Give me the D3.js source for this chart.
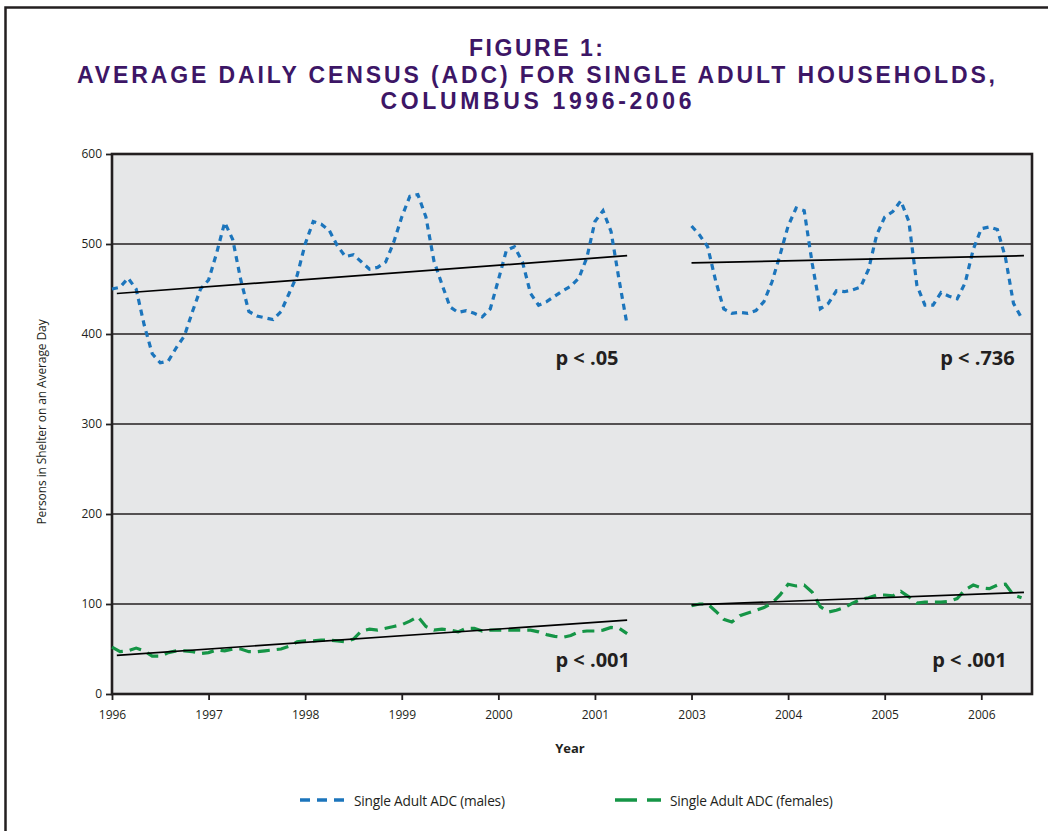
<!DOCTYPE html>
<html>
<head>
<meta charset="utf-8">
<script src="https://cdn.jsdelivr.net/npm/d3@7"></script>
<style>
  body { margin: 0; background: #fff; }
  text { font-family: "Open Sans", "Noto Sans", sans-serif; fill: #231f20; }
</style>
</head>
<body>
<div id="chart"></div>
<script>
// tick labels (2002 is skipped on the axis, 2003 sits where 2002 would be)
const yearLabels = ["1996","1997","1998","1999","2000","2001","2003","2004","2005","2006"];
const yearTicks = [0, 12, 24, 36, 48, 60, 72, 84, 96, 108]; // month index
const yTicks = [0, 100, 200, 300, 400, 500, 600];

// monthly ADC, males, Jan 1996 - May 2001
const maleA = [450,452,462,450,410,378,368,370,385,398,425,450,
  460,490,524,505,460,425,420,418,416,425,445,465,
  500,525,522,515,498,486,488,480,472,474,480,502,
  530,553,555,530,481,455,430,424,426,423,419,428,
  460,493,497,480,445,432,436,442,448,453,462,485,
  525,537,514,460,410];
// males, Jan 2003 - Jun 2006
const maleB = [520,510,497,459,428,423,424,423,426,436,458,488,
  520,540,537,478,428,434,448,447,449,452,472,510,
  530,536,548,525,454,432,432,446,442,439,457,494,
  517,519,516,485,434,418];
// females
const femaleA = [52,47,48,51,48,42,42,46,48,48,47,45,
  46,49,48,50,50,47,47,48,49,50,53,58,
  59,59,60,60,59,58,61,70,72,71,73,75,
  77,81,86,75,71,72,71,69,73,73,70,71,
  71,71,71,71,71,69,66,64,63,65,69,70,
  70,71,74,73,67];
const femaleB = [98,100,100,92,83,80,87,90,93,96,101,110,
  122,120,121,113,97,91,93,96,101,105,107,110,
  110,109,114,108,101,102,102,102,103,106,116,121,
  118,117,121,122,110,107];
const startA = 0, startB = 72;

// linear trends [month, value]
const trends = [
  [[0.6, 445], [64, 487]],
  [[72, 479], [113.3, 487]],
  [[0.6, 43], [64, 82]],
  [[72, 99], [113.3, 113]]
];
const pLabels = ["p < .05", "p < .736", "p < .001", "p < .001"];
const pPos = [[55.1, 365], [102.9, 365], [55.1, 667], [101.9, 667]]; // month, baseline

const W = 1048, H = 831;
const margin = {top: 154, right: 16, bottom: 137, left: 112};
const width = W - margin.left - margin.right,
      height = H - margin.top - margin.bottom;

const svg = d3.select("#chart").append("svg")
  .attr("width", W).attr("height", H);

// outer frame
svg.append("rect")
  .attr("x", 5.5).attr("y", 7.5).attr("width", 1100).attr("height", 900)
  .attr("fill", "none").attr("stroke", "#231f20").attr("stroke-width", 2.5);

// title
const titleLines = ["FIGURE 1:", "AVERAGE DAILY CENSUS (ADC) FOR SINGLE ADULT HOUSEHOLDS,", "COLUMBUS 1996-2006"];
const titleWidths = [134, 918, 311];
svg.append("g").selectAll("text")
  .data(titleLines)
  .join("text")
    .attr("x", 536)
    .attr("y", (d, i) => 56 + i * 26.5)
    .attr("text-anchor", "middle")
    .attr("textLength", (d, i) => titleWidths[i])
    .attr("lengthAdjust", "spacing")
    .style("font-family", "'Liberation Sans', Arial, sans-serif")
    .style("font-size", "23px")
    .style("font-weight", "bold")
    .style("fill", "#3d1666")
    .text(d => d);

const g = svg.append("g")
  .attr("transform", `translate(${margin.left},${margin.top})`);

const x = d3.scaleLinear().domain([0, 114.3]).range([0, width]);
const y = d3.scaleLinear().domain([0, 600]).range([height, 0]);

// plot background
g.append("rect")
  .attr("width", width).attr("height", height)
  .attr("fill", "#e6e7e8");

// grid
g.append("g").selectAll("line")
  .data(yTicks.slice(1, -1))
  .join("line")
    .attr("x1", 0).attr("x2", width)
    .attr("y1", d => y(d)).attr("y2", d => y(d))
    .attr("stroke", "#231f20").attr("stroke-width", 1.6);

// axes
const yAxis = g.append("g")
  .call(d3.axisLeft(y).tickValues(yTicks).tickSize(6).tickPadding(4));
const xAxis = g.append("g")
  .attr("transform", `translate(0,${height})`)
  .call(d3.axisBottom(x).tickValues(yearTicks).tickSize(6).tickPadding(10)
    .tickFormat((d, i) => yearLabels[i]));
[yAxis, xAxis].forEach(a => {
  a.select(".domain").remove();
  a.selectAll("line").attr("stroke", "#231f20").attr("stroke-width", 1.8);
  a.selectAll("text").style("font-size", "12px").style("fill", "#231f20")
    .style("font-family", "'Open Sans', sans-serif");
});

// plot border
g.append("rect")
  .attr("width", width).attr("height", height)
  .attr("fill", "none").attr("stroke", "#231f20").attr("stroke-width", 2.6);

const line = start => d3.line()
  .x((d, i) => x(start + i))
  .y(d => y(d));

// series
const series = [
  {data: maleA, start: startA, color: "#1c75bc", dash: "6,5"},
  {data: maleB, start: startB, color: "#1c75bc", dash: "6,5"},
  {data: femaleA, start: startA, color: "#159546", dash: "12,7"},
  {data: femaleB, start: startB, color: "#159546", dash: "12,7"}
];
g.append("g").selectAll("path")
  .data(series)
  .join("path")
    .attr("d", d => line(d.start)(d.data))
    .attr("fill", "none")
    .attr("stroke", d => d.color)
    .attr("stroke-width", 3.2)
    .attr("stroke-dasharray", d => d.dash);

// trend lines
g.append("g").selectAll("line")
  .data(trends)
  .join("line")
    .attr("x1", d => x(d[0][0])).attr("y1", d => y(d[0][1]))
    .attr("x2", d => x(d[1][0])).attr("y2", d => y(d[1][1]))
    .attr("stroke", "#000").attr("stroke-width", 1.7);

// p values
svg.append("g").selectAll("text")
  .data(pLabels)
  .join("text")
    .attr("x", (d, i) => margin.left + x(pPos[i][0]))
    .attr("y", (d, i) => pPos[i][1])
    .style("font-size", "20px")
    .style("font-weight", "bold")
    .text(d => d);

// axis titles
svg.append("text")
  .attr("transform", `translate(46,${margin.top + height / 2 - 2}) rotate(-90)`)
  .attr("text-anchor", "middle")
  .style("font-size", "12px")
  .style("letter-spacing", "-0.1px")
  .text("Persons in Shelter on an Average Day");

svg.append("text")
  .attr("x", 570).attr("y", 753)
  .attr("text-anchor", "middle")
  .style("font-size", "13px")
  .style("font-weight", "bold")
  .text("Year");

// legend
const legend = [
  {label: "Single Adult ADC (males)", color: "#1c75bc", dash: "10,7", x: 300, len: 44, tx: 54},
  {label: "Single Adult ADC (females)", color: "#159546", dash: "22,10", x: 615, len: 46, tx: 55}
];
const lg = svg.append("g").selectAll("g")
  .data(legend)
  .join("g")
    .attr("transform", d => `translate(${d.x},800)`);
lg.append("line")
  .attr("x1", 0).attr("x2", d => d.len)
  .attr("stroke", d => d.color).attr("stroke-width", 3.5)
  .attr("stroke-dasharray", d => d.dash);
lg.append("text")
  .attr("x", d => d.tx).attr("y", 6)
  .style("font-size", "13.7px")
  .style("letter-spacing", "-0.2px")
  .text(d => d.label);
</script>
</body>
</html>
